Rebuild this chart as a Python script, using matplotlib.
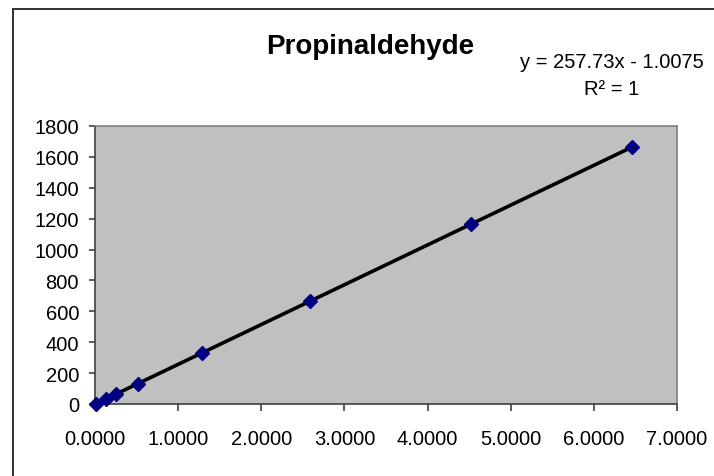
import matplotlib.pyplot as plt
from matplotlib.patches import Rectangle
from matplotlib.ticker import FormatStrFormatter, MultipleLocator

# data (trendline y = 257.73x - 1.0075)
conc = [0.0129, 0.1293, 0.2585, 0.5170, 1.2926, 2.5852, 4.5241, 6.4630]
area = [2.3, 32.3, 65.6, 132.2, 332.1, 665.3, 1165.0, 1664.7]

title = 'Propinaldehyde'
eq_text = 'y = 257.73x - 1.0075\nR\u00b2 = 1'

plt.rcParams['font.family'] = ['Liberation Sans', 'DejaVu Sans']

fig = plt.figure(figsize=(7.14, 4.77), dpi=100)
ax = fig.add_axes([95 / 714, 1 - 405 / 477, 582 / 714, 278 / 477])

ax.set_facecolor('#c0c0c0')
ax.plot(conc, area, color='black', linewidth=2.6, zorder=2)
ax.plot(conc, area, linestyle='none', marker='D', markersize=7.5,
        color='#000080', zorder=3, clip_on=False)

ax.set_xlim(0, 7)
ax.set_ylim(0, 1800)
ax.xaxis.set_major_locator(MultipleLocator(1))
ax.yaxis.set_major_locator(MultipleLocator(200))
ax.xaxis.set_major_formatter(FormatStrFormatter('%.4f'))

for side in ['left', 'bottom']:
    ax.spines[side].set_color('#404040')
    ax.spines[side].set_linewidth(1.2)
for side in ['top', 'right']:
    ax.spines[side].set_color('#808080')
    ax.spines[side].set_linewidth(1.2)

ax.tick_params(axis='y', direction='out', length=4, width=1.2,
               color='#404040', labelsize=14.5, pad=7.5)
ax.tick_params(axis='x', direction='out', length=5, width=1.2,
               color='#404040', labelsize=14.5, pad=13)

fig.text(370 / 714, 1 - 47 / 477, title, fontsize=20, fontweight='bold',
         ha='center', va='center')
fig.text(612 / 714, 1 - 76 / 477, eq_text, fontsize=14.5, ha='center',
         va='center', multialignment='center', linespacing=1.5)

# outer chart frame (cut off at right and bottom)
fig.patches.append(Rectangle((13 / 714, -0.2), 1.2, 1.2 - 10 / 477,
                             transform=fig.transFigure, fill=False,
                             edgecolor='#303030', linewidth=1.4))

fig.savefig('out.png', dpi=100)
